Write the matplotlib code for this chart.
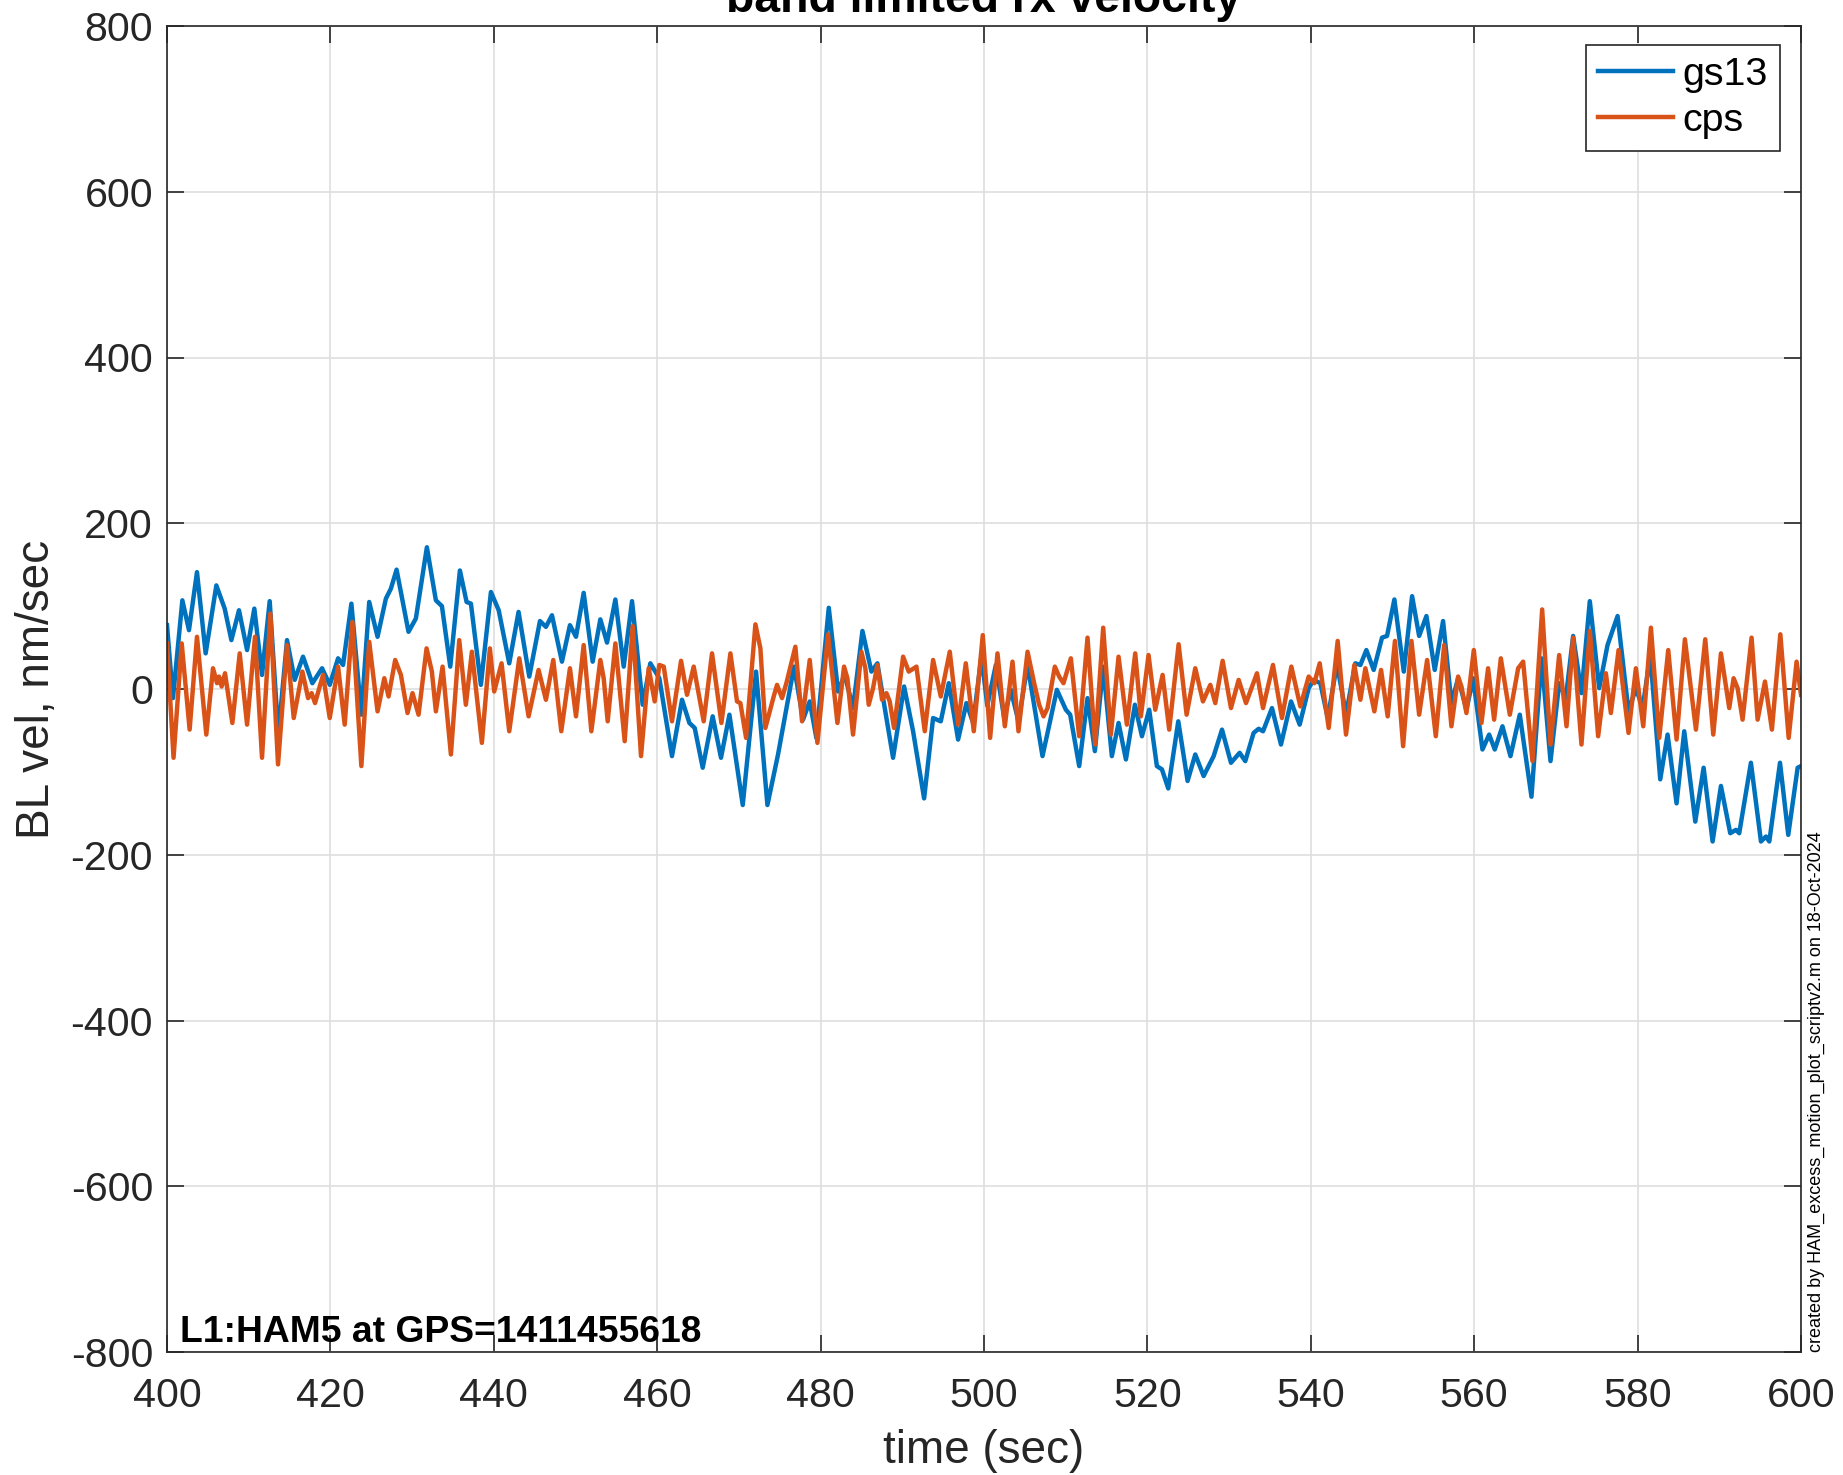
import matplotlib
matplotlib.use("Agg")
import matplotlib.pyplot as plt

plt.rcParams["font.family"] = ["Liberation Sans", "DejaVu Sans"]
plt.rcParams["axes.unicode_minus"] = False

# gs13 (blue) - time (sec) and BL velocity (nm/sec)
gs13_t = [400.0, 400.73, 401.88, 402.69, 403.67, 404.73, 406.04, 407.06, 407.88, 408.81,
          409.8, 410.69, 411.63, 412.57, 413.63, 414.69, 415.63, 416.65, 417.79, 418.98,
          419.92, 420.94, 421.55, 422.57, 423.79, 424.75, 425.77, 426.79, 427.4, 428.1,
          429.56, 430.46, 431.81, 432.91, 433.65, 434.67, 435.85, 436.67, 437.2, 438.42,
          439.65, 440.6, 441.89, 443.03, 444.34, 445.65, 446.38, 447.12, 448.34, 449.32,
          450.06, 451.0, 452.1, 453.04, 453.86, 454.88, 455.9, 456.92, 458.22, 459.16,
          460.26, 461.81, 463.04, 463.94, 464.59, 465.57, 466.79, 467.81, 468.84, 470.47,
          472.1, 473.49, 474.79, 475.6, 476.75, 477.85, 478.67, 479.48, 481.0, 482.14,
          482.95, 483.97, 485.12, 486.22, 486.95, 487.65, 488.87, 490.22, 491.32, 492.67,
          493.77, 494.71, 495.69, 496.83, 497.85, 498.67, 499.69, 500.4, 501.45, 502.47,
          503.28, 504.22, 505.33, 507.16, 508.92, 510.02, 510.55, 511.65, 512.67, 513.57,
          514.59, 515.65, 516.47, 517.37, 518.47, 519.33, 520.22, 521.16, 521.78, 522.55,
          523.78, 524.92, 525.86, 526.88, 528.11, 529.13, 530.23, 531.29, 531.98, 533.0,
          533.62, 534.15, 535.25, 536.35, 537.58, 538.64, 539.74, 540.35, 541.17, 542.07,
          543.21, 544.31, 545.45, 546.07, 546.8, 547.7, 548.72, 549.33, 550.23, 551.38,
          552.4, 553.26, 554.15, 555.17, 556.19, 557.21, 558.03, 559.05, 559.87, 561.01,
          561.83, 562.52, 563.46, 564.44, 565.58, 567.01, 568.24, 569.34, 570.4, 571.21,
          572.11, 573.13, 574.15, 575.3, 576.32, 577.55, 578.89, 579.79, 580.61, 581.55,
          582.77, 583.67, 584.77, 585.71, 587.06, 588.08, 589.18, 590.2, 591.34, 592.04,
          592.44, 593.87, 595.1, 595.71, 596.12, 597.43, 598.44, 599.59, 600.0]
gs13_v = [77, -11, 107, 71, 141, 43, 125, 97, 59, 95,
          47, 97, 17, 106, -55, 59, 11, 39, 7, 25,
          5, 37, 29, 103, -31, 105, 63, 109, 121, 144,
          69, 85, 171, 107, 100, 27, 143, 105, 103, 5,
          117, 95, 31, 93, 15, 82, 75, 89, 33, 77,
          63, 116, 33, 84, 56, 108, 27, 106, -19, 31,
          13, -81, -13, -41, -47, -95, -33, -83, -31, -140,
          21, -140, -79, -35, 27, -37, -15, -59, 98, -3,
          17, -23, 70, 21, 31, -11, -83, 3, -51, -132,
          -35, -39, 7, -61, -17, -41, 40, -20, 29, -35,
          -1, -39, 29, -81, -1, -25, -31, -93, -11, -75,
          27, -81, -41, -85, -19, -57, -25, -93, -97, -120,
          -39, -111, -79, -105, -81, -49, -89, -77, -87, -53,
          -48, -51, -23, -67, -15, -43, 1, 11, 7, -35,
          30, -31, 31, 29, 47, 23, 62, 64, 108, 21,
          112, 64, 88, 23, 82, -17, 13, -25, 13, -73,
          -55, -73, -45, -81, -31, -130, 37, -87, 7, -11,
          64, -5, 106, 1, 53, 88, -27, 1, -23, 41,
          -109, -55, -138, -51, -160, -95, -184, -117, -174, -170,
          -174, -89, -184, -178, -184, -89, -176, -95, -93]

# cps (orange)
cps_t = [400.0, 400.8, 401.8, 402.77, 403.67, 404.81, 405.63, 406.12, 406.37, 406.69,
         407.1, 408.0, 408.9, 409.8, 410.77, 411.63, 412.65, 413.59, 414.69, 415.51,
         416.57, 417.27, 417.7, 418.12, 419.1, 419.92, 420.94, 421.75, 422.69, 423.79,
         424.75, 425.77, 426.6, 427.12, 427.93, 428.63, 429.44, 430.05, 430.79, 431.77,
         432.42, 432.91, 433.73, 434.75, 435.77, 436.58, 437.32, 438.54, 439.52, 440.05,
         440.95, 441.89, 443.12, 444.26, 445.48, 446.38, 447.28, 448.26, 449.32, 450.06,
         451.0, 451.94, 453.04, 453.45, 453.94, 454.88, 456.02, 457.0, 458.02, 458.96,
         459.69, 460.26, 460.8, 461.81, 462.92, 463.65, 464.47, 465.69, 466.71, 467.86,
         468.96, 469.77, 470.18, 470.88, 472.02, 472.63, 473.24, 474.26, 474.67, 475.28,
         475.81, 476.91, 477.73, 478.67, 479.61, 480.91, 482.06, 482.87, 483.28, 483.97,
         484.99, 485.48, 485.89, 486.42, 486.95, 487.52, 488.06, 488.46, 488.99, 490.1,
         490.79, 491.73, 492.75, 493.77, 494.71, 495.81, 496.83, 497.77, 498.75, 499.85,
         500.75, 501.65, 502.55, 503.49, 504.22, 505.33, 506.14, 506.75, 507.29, 507.78,
         508.67, 509.2, 509.73, 510.63, 511.65, 512.67, 513.61, 514.59, 515.53, 516.47,
         517.49, 518.51, 519.2, 520.14, 520.96, 521.86, 522.67, 523.82, 524.8, 525.86,
         526.8, 527.7, 528.31, 529.21, 530.23, 531.17, 532.07, 533.41, 534.15, 535.37,
         536.47, 537.62, 538.72, 539.74, 540.43, 541.09, 542.19, 543.29, 544.31, 545.33,
         546.07, 546.68, 547.78, 548.6, 549.41, 550.3, 551.3, 552.32, 553.26, 554.24,
         555.3, 556.32, 557.21, 558.03, 558.44, 559.05, 559.95, 560.89, 561.7, 562.44,
         563.26, 564.36, 565.38, 565.99, 567.13, 568.32, 569.34, 570.4, 571.3, 572.11,
         573.13, 574.15, 575.17, 576.12, 576.73, 577.67, 578.89, 579.79, 580.69, 581.63,
         582.65, 583.75, 584.77, 585.79, 587.14, 588.28, 589.26, 590.2, 591.22, 591.75,
         592.24, 592.85, 593.95, 594.69, 595.59, 596.44, 597.47, 598.49, 599.46, 600.0]
cps_v = [55, -83, 55, -49, 63, -55, 25, 7, 15, 3,
         19, -41, 43, -43, 63, -83, 91, -91, 53, -35,
         21, -11, -5, -17, 17, -35, 27, -43, 81, -93,
         57, -27, 13, -9, 35, 17, -29, -5, -31, 49,
         21, -27, 27, -79, 59, -19, 45, -65, 49, -3,
         31, -51, 37, -33, 23, -13, 35, -51, 25, -33,
         53, -51, 35, 13, -39, 55, -63, 76, -81, 25,
         -15, 29, 27, -39, 34, -7, 27, -39, 43, -41,
         43, -15, -17, -59, 78, 49, -47, -9, 5, -11,
         7, 51, -39, 35, -65, 66, -41, 27, 13, -55,
         45, 25, -19, 1, 29, -13, -5, -15, -47, 39,
         21, 27, -51, 35, -9, 45, -43, 31, -51, 65,
         -59, 43, -45, 33, -51, 45, 7, -19, -33, -23,
         27, 15, 7, 37, -57, 62, -67, 74, -55, 39,
         -43, 43, -33, 41, -25, 17, -49, 54, -31, 25,
         -15, 5, -17, 34, -23, 11, -17, 19, -23, 29,
         -35, 27, -21, 15, 7, 31, -47, 58, -55, 29,
         -13, 25, -27, 23, -33, 58, -69, 58, -31, 35,
         -57, 53, -45, 15, 3, -29, 47, -41, 25, -37,
         37, -31, 25, 33, -87, 96, -67, 41, -45, 62,
         -67, 70, -57, 19, -29, 47, -53, 25, -45, 74,
         -59, 47, -61, 60, -49, 60, -55, 43, -23, 13,
         1, -37, 62, -37, 9, -49, 66, -59, 33, -7]

x_ticks = list(range(400, 601, 20))
y_ticks = list(range(-800, 801, 200))

fig = plt.figure(figsize=(1843 / 200, 1475 / 200), dpi=200)
ax = fig.add_axes([167 / 1843, 123 / 1475, 1634 / 1843, 1326 / 1475])

ax.plot(gs13_t, gs13_v, color="#0072BD", lw=1.6, label="gs13", solid_joinstyle="round")
ax.plot(cps_t, cps_v, color="#D95319", lw=1.6, label="cps", solid_joinstyle="round")

ax.set_xlim(400, 600)
ax.set_ylim(-800, 800)
ax.set_xticks(x_ticks)
ax.set_yticks(y_ticks)
ax.grid(True, color="#dedede", lw=0.6)
ax.set_axisbelow(True)
ax.tick_params(direction="in", length=6, width=0.6, top=True, right=True,
               labelsize=14.8, colors="#262626")
ax.tick_params(axis="x", pad=9)
ax.tick_params(axis="y", pad=5)
for s in ax.spines.values():
    s.set_linewidth(0.6)
    s.set_color("#262626")

ax.set_xlabel("time (sec)", fontsize=16.5, color="#262626", labelpad=5)
ax.set_ylabel("BL vel, nm/sec", fontsize=16.5, color="#262626", labelpad=4.2)
ax.set_title("band limited rx velocity", fontsize=16.7, fontweight="bold", pad=5)

leg = ax.legend(loc="upper right", bbox_to_anchor=(1 - 21 / 1634, 1 - 19 / 1326),
                borderaxespad=0, fontsize=14.2, fancybox=False, framealpha=1,
                edgecolor="#262626", handlelength=1.9, handletextpad=0.25,
                labelspacing=0.25, borderpad=0.3)
leg.get_frame().set_linewidth(0.6)

ax.text(0.008, 0.0075, "L1:HAM5 at GPS=1411455618", transform=ax.transAxes,
        fontsize=13.4, fontweight="bold", ha="left", va="baseline")

fig.text(1816 / 1843, 123 / 1475, "created by HAM_excess_motion_plot_scriptv2.m on 18-Oct-2024",
         rotation=90, fontsize=6.5, ha="center", va="bottom")

fig.savefig("out.png", dpi=200)
